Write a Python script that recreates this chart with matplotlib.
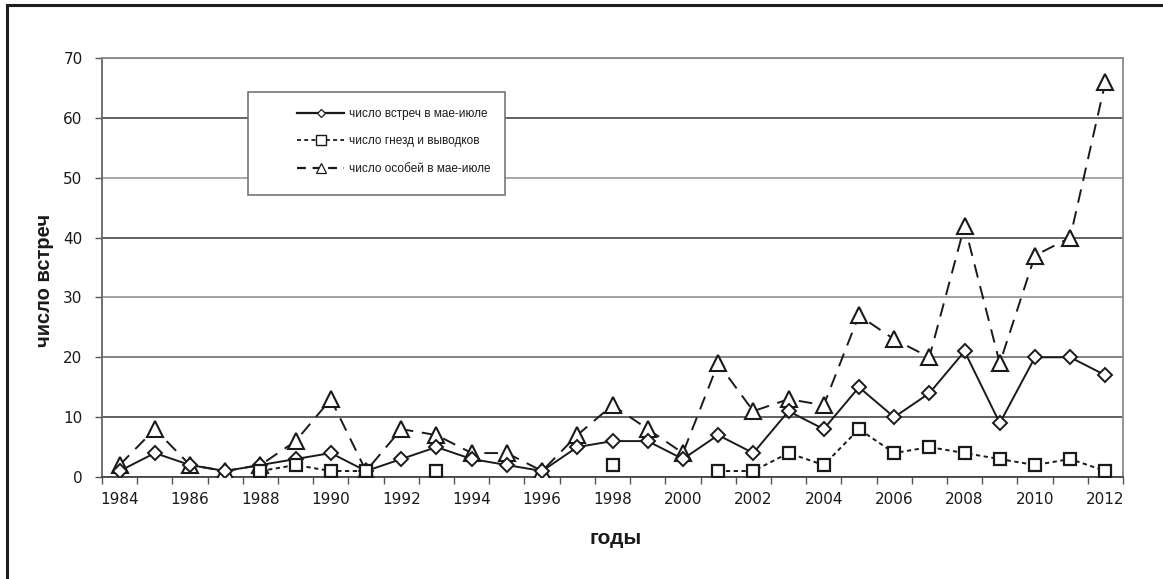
import matplotlib
matplotlib.use("Agg")
import matplotlib.pyplot as plt
from matplotlib.patches import Rectangle
from matplotlib.lines import Line2D
import numpy as np

plt.rcParams['font.family'] = ['Liberation Sans', 'DejaVu Sans']

years = list(range(1984, 2013))
meetings = [1, 4, 2, 1, 2, 3, 4, 1, 3, 5, 3, 2, 1, 5, 6, 6, 3, 7, 4, 11, 8, 15, 10, 14, 21, 9, 20, 20, 17]
nests = [None, None, None, None, 1, 2, 1, 1, None, 1, None, None, None, None, 2, None, None,
         1, 1, 4, 2, 8, 4, 5, 4, 3, 2, 3, 1]
individuals = [2, 8, 2, 1, 2, 6, 13, 1, 8, 7, 4, 4, 1, 7, 12, 8, 4, 19, 11, 13, 12, 27, 23, 20, 42, 19, 37, 40, 66]

labels = ["число встреч в мае-июле", "число гнезд и выводков", "число особей в мае-июле"]
y_ticks = [0, 10, 20, 30, 40, 50, 60, 70]
x_label_years = list(range(1984, 2013, 2))

W, H = 1163, 579
fig = plt.figure(figsize=(W / 100, H / 100), dpi=100)

# outer frame
fig.patches.append(Rectangle((7 / W, -0.2), 1.5, 1 - 5 / H + 0.2, transform=fig.transFigure,
                             fill=False, edgecolor='#1e1e1e', linewidth=2.2, zorder=0))

ax = fig.add_axes([102 / W, 1 - 477 / H, (1123 - 102) / W, (477 - 58) / H])

nests_arr = np.array([np.nan if v is None else v for v in nests], dtype=float)
lc = '#1a1a1a'

ax.plot(years, individuals, color=lc, lw=1.4, linestyle=(0, (7, 4.5)), marker='^', markersize=11,
        markerfacecolor='white', markeredgecolor=lc, markeredgewidth=1.5, zorder=3)
ax.plot(years, meetings, color=lc, lw=1.4, linestyle='-', marker='D', markersize=7,
        markerfacecolor='white', markeredgecolor=lc, markeredgewidth=1.4, zorder=4)
ax.plot(years, nests_arr, color=lc, lw=1.4, linestyle=(0, (2.2, 1.8)), marker='s', markersize=9,
        markerfacecolor='white', markeredgecolor=lc, markeredgewidth=1.6, zorder=5)

tick_font = dict(family='DejaVu Sans', size=11)
ax.set_xlim(1983.5, 2012.5)
ax.set_ylim(0, 70)
ax.set_yticks(y_ticks)
ax.set_yticklabels([str(v) for v in y_ticks], color='#1a1a1a', fontdict=tick_font)
ax.set_xticks(np.arange(1983.5, 2013, 1))
ax.set_xticklabels([])
ax.set_xticks(x_label_years, minor=True)
ax.set_xticklabels([str(y) for y in x_label_years], minor=True, color='#1a1a1a', fontdict=tick_font)
ax.tick_params(axis='x', which='major', direction='out', length=5, width=1, color='#555555')
ax.tick_params(axis='x', which='minor', length=0, pad=11)
ax.tick_params(axis='y', direction='out', length=5, width=1, color='#555555', pad=9)

ax.grid(axis='y', color='#808080', linewidth=1.3, zorder=1)
grid_colors = ['#606060', '#555555', '#7a7a7a', '#9a9a9a', '#555555', '#a0a0a0', '#555555', '#555555']
for gl, c in zip(ax.get_ygridlines(), grid_colors):
    gl.set_color(c)
ax.set_axisbelow(True)

for s in ['top', 'right']:
    ax.spines[s].set_color('#8a8a8a')
    ax.spines[s].set_linewidth(1.3)
ax.spines['left'].set_color('#666666')
ax.spines['left'].set_linewidth(1.3)
ax.spines['bottom'].set_color('#444444')
ax.spines['bottom'].set_linewidth(1.3)

ax.set_ylabel("число встреч", fontsize=14.5, fontweight='bold', color='#1a1a1a')
ax.yaxis.set_label_coords((45 - 102) / 1021, (477 - 280) / 419)
ax.set_xlabel("годы", fontsize=15, fontweight='bold', color='#1a1a1a')
ax.xaxis.set_label_coords((616 - 102) / 1021, -(539 - 477) / 419)
ax.xaxis.label.set_verticalalignment('center')
ax.yaxis.label.set_verticalalignment('center')

# legend box
fig.patches.append(Rectangle((248 / W, 1 - 195 / H), (505 - 248) / W, (195 - 92) / H,
                             transform=fig.transFigure, facecolor='white', edgecolor='#777777',
                             linewidth=1.2, zorder=5))
handles = [
    Line2D([], [], color=lc, lw=1.6, linestyle='-', marker='D', markersize=4.5,
           markerfacecolor='white', markeredgecolor=lc, markeredgewidth=0.9),
    Line2D([], [], color=lc, lw=1.3, linestyle=(0, (2.2, 1.8)), marker='s', markersize=7,
           markerfacecolor='white', markeredgecolor=lc, markeredgewidth=1.0),
    Line2D([], [], color=lc, lw=1.6, linestyle=(0, (4, 3)), marker='^', markersize=6.5,
           markerfacecolor='white', markeredgecolor=lc, markeredgewidth=0.9),
]
leg_size = 8.5
em = leg_size * 100 / 72
leg = fig.legend(handles, labels, loc='upper left', bbox_to_anchor=(297 / W, 1 - 108 / H),
                 frameon=False, prop=dict(family='Liberation Sans', size=leg_size),
                 handlelength=47 / em, handletextpad=5 / em, labelspacing=1.3,
                 borderaxespad=0, borderpad=0)
leg.set_zorder(6)
for t in leg.get_texts():
    t.set_color('#1a1a1a')

fig.savefig("out.png", dpi=100)
